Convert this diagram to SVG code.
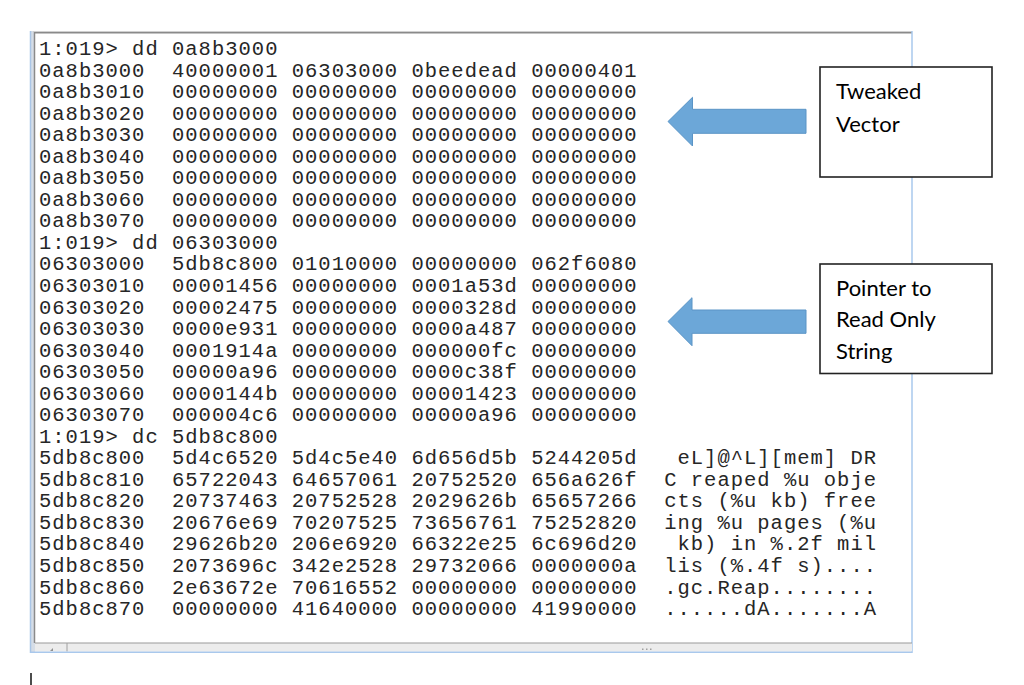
<svg xmlns="http://www.w3.org/2000/svg" width="1024" height="685" viewBox="0 0 1024 685">
<style>
.mono{font-family:"Liberation Mono","DejaVu Sans Mono",monospace;font-size:20.5px;letter-spacing:1px;fill:#262626}
.lbl{font-family:Lato,"Open Sans","Liberation Sans",sans-serif;font-size:22px;fill:#000}
.box{fill:#fff;stroke:#222;stroke-width:1.6}
.arrow{fill:#6ca7d8;stroke:#5a94c6;stroke-width:1}
</style>
<rect width="1024" height="685" fill="#fff"/>
<g id="console">
<rect x="30" y="31" width="882" height="621" fill="#fff"/>
<rect x="30" y="31" width="5" height="621" fill="#d6dde6"/>
<line x1="30.5" y1="31" x2="30.5" y2="653" stroke="#a9c5e6" stroke-width="1.5"/>
<line x1="34.5" y1="32" x2="34.5" y2="643" stroke="#8a8a8a" stroke-width="1.5"/>
<line x1="33" y1="31.5" x2="912" y2="31.5" stroke="#d0d0d0" stroke-width="1"/>
<line x1="34" y1="32.8" x2="912" y2="32.8" stroke="#8a8a8a" stroke-width="1.6"/>
<line x1="912" y1="31" x2="912" y2="653" stroke="#a9c8ec" stroke-width="1.5"/>
<rect x="35" y="643" width="877" height="8.5" fill="#ececec"/>
<line x1="35" y1="643" x2="912" y2="643" stroke="#9a9a9a" stroke-width="1.2"/>
<line x1="67" y1="643" x2="67" y2="651.5" stroke="#a0a0a0" stroke-width="1"/>
<path d="M50 651 L53 648 L53 651 Z" fill="#909090"/>
<g fill="#a0a0a0"><rect x="642" y="648.5" width="1.5" height="1.5"/><rect x="646" y="648.5" width="1.5" height="1.5"/><rect x="650" y="648.5" width="1.5" height="1.5"/></g>
<line x1="30" y1="652.3" x2="912" y2="652.3" stroke="#a9c8ec" stroke-width="1.5"/>
<g class="mono">
<text xml:space="preserve" x="39" y="55">1:019&gt; dd 0a8b3000</text>
<text xml:space="preserve" x="39" y="76.5">0a8b3000 &#160;40000001 06303000 0beedead 00000401</text>
<text xml:space="preserve" x="39" y="98.1">0a8b3010 &#160;00000000 00000000 00000000 00000000</text>
<text xml:space="preserve" x="39" y="119.6">0a8b3020 &#160;00000000 00000000 00000000 00000000</text>
<text xml:space="preserve" x="39" y="141.2">0a8b3030 &#160;00000000 00000000 00000000 00000000</text>
<text xml:space="preserve" x="39" y="162.7">0a8b3040 &#160;00000000 00000000 00000000 00000000</text>
<text xml:space="preserve" x="39" y="184.2">0a8b3050 &#160;00000000 00000000 00000000 00000000</text>
<text xml:space="preserve" x="39" y="205.8">0a8b3060 &#160;00000000 00000000 00000000 00000000</text>
<text xml:space="preserve" x="39" y="227.3">0a8b3070 &#160;00000000 00000000 00000000 00000000</text>
<text xml:space="preserve" x="39" y="248.9">1:019&gt; dd 06303000</text>
<text xml:space="preserve" x="39" y="270.4">06303000 &#160;5db8c800 01010000 00000000 062f6080</text>
<text xml:space="preserve" x="39" y="291.9">06303010 &#160;00001456 00000000 0001a53d 00000000</text>
<text xml:space="preserve" x="39" y="313.5">06303020 &#160;00002475 00000000 0000328d 00000000</text>
<text xml:space="preserve" x="39" y="335">06303030 &#160;0000e931 00000000 0000a487 00000000</text>
<text xml:space="preserve" x="39" y="356.6">06303040 &#160;0001914a 00000000 000000fc 00000000</text>
<text xml:space="preserve" x="39" y="378.1">06303050 &#160;00000a96 00000000 0000c38f 00000000</text>
<text xml:space="preserve" x="39" y="399.6">06303060 &#160;0000144b 00000000 00001423 00000000</text>
<text xml:space="preserve" x="39" y="421.2">06303070 &#160;000004c6 00000000 00000a96 00000000</text>
<text xml:space="preserve" x="39" y="442.7">1:019&gt; dc 5db8c800</text>
<text xml:space="preserve" x="39" y="464.3">5db8c800 &#160;5d4c6520 5d4c5e40 6d656d5b 5244205d &#160;&#160;eL]@^L][mem] DR</text>
<text xml:space="preserve" x="39" y="485.8">5db8c810 &#160;65722043 64657061 20752520 656a626f &#160;C reaped %u obje</text>
<text xml:space="preserve" x="39" y="507.3">5db8c820 &#160;20737463 20752528 2029626b 65657266 &#160;cts (%u kb) free</text>
<text xml:space="preserve" x="39" y="528.9">5db8c830 &#160;20676e69 70207525 73656761 75252820 &#160;ing %u pages (%u</text>
<text xml:space="preserve" x="39" y="550.4">5db8c840 &#160;29626b20 206e6920 66322e25 6c696d20 &#160;&#160;kb) in %.2f mil</text>
<text xml:space="preserve" x="39" y="572">5db8c850 &#160;2073696c 342e2528 29732066 0000000a &#160;lis (%.4f s)....</text>
<text xml:space="preserve" x="39" y="593.5">5db8c860 &#160;2e63672e 70616552 00000000 00000000 &#160;.gc.Reap........</text>
<text xml:space="preserve" x="39" y="615">5db8c870 &#160;00000000 41640000 00000000 41990000 &#160;......dA.......A</text>
</g>
</g>
<g id="connectors">
<polygon class="arrow" points="668,121.5 692.5,97.3 692.5,109.3 806,109.3 806,133.3 692.5,133.3 692.5,146"/>
<polygon class="arrow" points="668,321.5 692,297.7 692,310 806,310 806,333.3 692,333.3 692,345.7"/>
</g>
<g id="callout-tweaked">
<rect class="box" x="820" y="67" width="172" height="110"/>
<text class="lbl" x="836" y="99">Tweaked</text>
<text class="lbl" x="836" y="131.5">Vector</text>
</g>
<g id="callout-pointer">
<rect class="box" x="820" y="264" width="172" height="109.5"/>
<text class="lbl" x="836" y="295.5">Pointer to</text>
<text class="lbl" x="836" y="327">Read Only</text>
<text class="lbl" x="836" y="358.5">String</text>
</g>
<line id="cursor" x1="31" y1="673" x2="31" y2="685" stroke="#111" stroke-width="1.5"/>
</svg>
